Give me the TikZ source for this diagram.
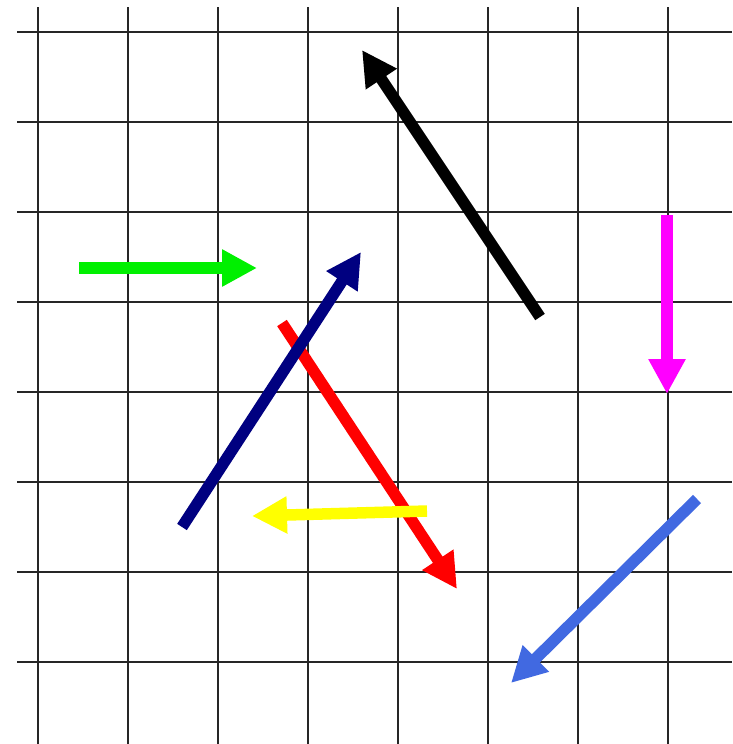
\documentclass[tikz,border=0pt]{standalone}
\usetikzlibrary{arrows.meta}
\definecolor{arrgreen}{RGB}{0,240,0}
\definecolor{arrmagenta}{RGB}{255,0,255}
\definecolor{arrnavy}{RGB}{0,0,128}
\definecolor{arrred}{RGB}{255,0,0}
\definecolor{arryellow}{RGB}{255,255,0}
\definecolor{arrblue}{RGB}{65,105,225}
\begin{document}
\begin{tikzpicture}[x=1pt,y=-1pt,
  gridline/.style={line width=2pt,black!85},
  fatarrow/.style={line width=11.5pt,-{Triangle[length=35pt,width=35pt]}}]
\useasboundingbox (0,0) rectangle (732,744);
\fill[white] (0,0) rectangle (732,744);
\foreach \x in {38,128,...,668} \draw[gridline] (\x,7) -- (\x,744);
\foreach \y in {32,122,...,662} \draw[gridline] (17,\y) -- (732,\y);
\coordinate (k1) at (540,317); \coordinate (k2) at (362,50);
\coordinate (g1) at (79,268);  \coordinate (g2) at (257,268);
\coordinate (m1) at (667,215); \coordinate (m2) at (667,394);
\coordinate (r1) at (282,323); \coordinate (r2) at (457,589);
\coordinate (n1) at (182,527); \coordinate (n2) at (361,252);
\coordinate (y1) at (427,511); \coordinate (y2) at (252,516);
\coordinate (b1) at (697,499); \coordinate (b2) at (511,683);
\draw[fatarrow,black] (k1) -- (k2);
\draw[fatarrow,arrgreen] (g1) -- (g2);
\draw[fatarrow,arrmagenta] (m1) -- (m2);
\draw[fatarrow,arrred] (r1) -- (r2);
\draw[fatarrow,arrnavy] (n1) -- (n2);
\draw[fatarrow,arryellow] (y1) -- (y2);
\draw[fatarrow,arrblue] (b1) -- (b2);
\end{tikzpicture}
\end{document}
